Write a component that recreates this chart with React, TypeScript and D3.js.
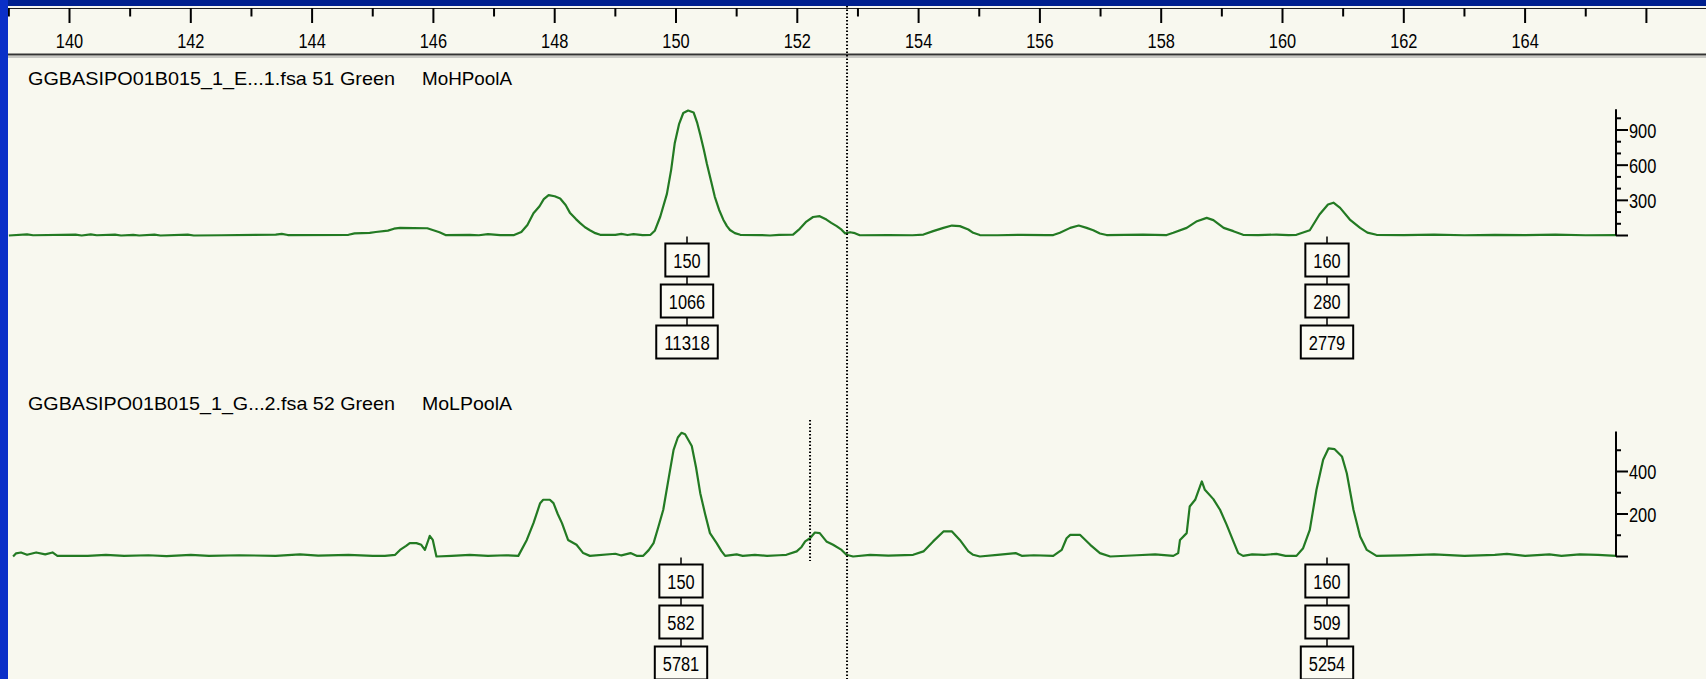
import * as d3 from "d3"
import React from "react"

const width = 1706
const height = 679

// size axis (bp)
const sizeTicks = d3.range(139, 167)
const sizeLabels = [140, 142, 144, 146, 148, 150, 152, 154, 156, 158, 160, 162, 164]

// panel headers
const topSample = "GGBASIPO01B015_1_E...1.fsa 51 Green"
const topPanel = "MoHPoolA"
const bottomSample = "GGBASIPO01B015_1_G...2.fsa 52 Green"
const bottomPanel = "MoLPoolA"

// rfu axes
const topRfuTicks = [300, 600, 900]
const topRfuMax = 1077
const bottomRfuTicks = [200, 400]
const bottomRfuMax = 588

// traces [bp, rfu]
const topTrace: [number, number][] = [
  [139.0, 0], [139.3, 10], [139.4, 2], [140.1, 8], [140.2, 0], [140.35, 10], [140.45, 2],
  [140.75, 8], [140.85, 0], [141.05, 6], [141.15, 0], [141.4, 8], [141.5, 0], [141.95, 8],
  [142.05, 0], [142.5, 2], [143.4, 8], [143.5, 14], [143.6, 4], [144.6, 6], [144.7, 18],
  [144.95, 22], [145.05, 30], [145.25, 42], [145.35, 58], [145.45, 65], [145.9, 62],
  [146.0, 45], [146.1, 28], [146.2, 4], [146.6, 6], [146.75, 2], [146.9, 12], [147.1, 4],
  [147.33, 4], [147.45, 30], [147.55, 90], [147.65, 190], [147.75, 250], [147.82, 310],
  [147.9, 345], [148.0, 335], [148.09, 315], [148.18, 260], [148.25, 195], [148.35, 140],
  [148.42, 106], [148.5, 70], [148.58, 45], [148.67, 20], [148.75, 6], [149.0, 5],
  [149.1, 14], [149.2, 4], [149.3, 12], [149.45, 4], [149.58, 6], [149.65, 40],
  [149.74, 160], [149.85, 355], [149.92, 560], [149.98, 790], [150.05, 950], [150.12, 1045],
  [150.2, 1066], [150.29, 1050], [150.35, 960], [150.4, 860], [150.46, 730], [150.51, 610],
  [150.58, 460], [150.64, 330], [150.71, 220], [150.78, 135], [150.84, 80], [150.89, 47],
  [150.97, 20], [151.06, 6], [151.4, 4], [151.55, 0], [151.7, 6], [151.93, 8], [152.04, 57],
  [152.15, 119], [152.26, 158], [152.37, 165], [152.48, 136], [152.56, 108], [152.65, 80],
  [152.73, 50], [152.79, 17], [152.87, 28], [152.95, 20], [153.03, 2], [153.5, 4],
  [153.9, 2], [154.08, 8], [154.24, 37], [154.41, 65], [154.55, 85], [154.68, 80],
  [154.82, 51], [154.9, 23], [155.01, 4], [155.3, 2], [155.7, 6], [156.1, 4], [156.22, 4],
  [156.33, 23], [156.5, 65], [156.64, 85], [156.77, 65], [156.88, 45], [156.99, 17],
  [157.1, 4], [157.7, 8], [158.09, 4], [158.2, 23], [158.42, 65], [158.59, 122],
  [158.75, 150], [158.86, 131], [159.03, 65], [159.19, 37], [159.35, 6], [159.6, 3],
  [159.9, 8], [160.1, 4], [160.23, 6], [160.45, 45], [160.61, 179], [160.75, 264],
  [160.84, 280], [160.95, 236], [161.11, 136], [161.28, 65], [161.4, 25], [161.55, 6],
  [162.0, 3], [162.5, 8], [163.0, 2], [163.5, 6], [164.0, 3], [164.5, 8], [165.0, 2],
  [165.5, 4],
]

const bottomTrace: [number, number][] = [
  [139.07, 0], [139.12, 15], [139.2, 19], [139.3, 8], [139.45, 19], [139.6, 10], [139.72, 19],
  [139.8, 3], [140.3, 3], [140.6, 8], [140.9, 3], [141.3, 6], [141.6, 2], [142.0, 8],
  [142.3, 3], [142.8, 6], [143.4, 3], [143.8, 10], [144.1, 4], [144.6, 8], [145.0, 3],
  [145.2, 3], [145.37, 8], [145.45, 31], [145.55, 50], [145.61, 63], [145.72, 63],
  [145.8, 55], [145.86, 31], [145.92, 80], [145.94, 97], [145.99, 78], [146.05, 0],
  [146.3, 3], [146.6, 8], [146.9, 3], [147.2, 6], [147.4, 3], [147.54, 78], [147.65, 157],
  [147.76, 251], [147.81, 267], [147.92, 267], [147.98, 251], [148.05, 200], [148.12, 157],
  [148.22, 78], [148.36, 55], [148.47, 16], [148.58, 3], [149.0, 13], [149.1, 5],
  [149.25, 16], [149.35, 3], [149.46, 3], [149.55, 30], [149.63, 63], [149.71, 140],
  [149.79, 220], [149.88, 370], [149.96, 502], [150.03, 560], [150.09, 582], [150.15, 575],
  [150.26, 520], [150.33, 420], [150.4, 298], [150.48, 200], [150.56, 110], [150.67, 63],
  [150.75, 25], [150.81, 3], [151.0, 10], [151.1, 3], [151.3, 8], [151.5, 3], [151.7, 6],
  [151.82, 8], [151.99, 24], [152.07, 45], [152.13, 71], [152.21, 86], [152.29, 113],
  [152.37, 110], [152.48, 71], [152.59, 55], [152.73, 31], [152.81, 8], [152.92, 0],
  [153.2, 8], [153.5, 4], [153.91, 8], [154.08, 24], [154.24, 71], [154.41, 118],
  [154.55, 118], [154.68, 78], [154.82, 24], [154.9, 8], [155.01, 0], [155.3, 8],
  [155.6, 16], [155.7, 3], [155.9, 6], [156.22, 3], [156.36, 31], [156.44, 86],
  [156.5, 102], [156.66, 102], [156.83, 55], [156.99, 16], [157.16, 0], [157.6, 6],
  [157.9, 10], [158.2, 3], [158.28, 16], [158.31, 78], [158.42, 110], [158.47, 235],
  [158.56, 267], [158.67, 353], [158.72, 314], [158.86, 270], [158.97, 220], [159.08, 149],
  [159.19, 71], [159.27, 16], [159.35, 3], [159.5, 10], [159.7, 8], [159.9, 12],
  [160.05, 3], [160.23, 3], [160.34, 39], [160.45, 125], [160.56, 314], [160.67, 455],
  [160.76, 509], [160.86, 505], [160.98, 471], [161.06, 392], [161.17, 220], [161.28, 94],
  [161.39, 31], [161.55, 3], [162.0, 5], [162.5, 10], [163.0, 3], [163.5, 8], [163.7, 12],
  [164.0, 3], [164.4, 10], [164.6, 3], [164.9, 10], [165.2, 8], [165.5, 3],
]

// peak labels
const topPeakSizes = ["150", "160"]
const topPeakHeights = [1066, 280]
const topPeakAreas = [11318, 2779]
const topPeakBp = [150.18, 160.74]
const bottomPeakSizes = ["150", "160"]
const bottomPeakHeights = [582, 509]
const bottomPeakAreas = [5781, 5254]
const bottomPeakBp = [150.08, 160.74]

// marker lines
const cursorBp = 152.82
const binMarkerBp = 152.21

const font = "'Liberation Sans', Arial, sans-serif"
const green = "#237a23"
const digitW = 9.1

const x = d3.scaleLinear().domain([150, 160]).range([676, 1282.5])
const yTop = d3.scaleLinear().domain([0, 900]).range([235.5, 130])
const yBottom = d3.scaleLinear().domain([0, 400]).range([556.5, 471.5])
const axisX = 1616

// narrow digits like the original bitmap font
const Num = ({ x, y, text, anchor = "start" }: { x: number; y: number; text: string; anchor?: string }) => (
  <text
    x={x}
    y={y}
    textAnchor={anchor}
    fontFamily={font}
    fontSize={20}
    fill="#000"
    textLength={text.length * digitW}
    lengthAdjust="spacingAndGlyphs"
  >
    {text}
  </text>
)

const Trace = ({ data, y }: { data: [number, number][]; y: d3.ScaleLinear<number, number> }) => {
  const line = d3
    .line<[number, number]>()
    .x((d) => x(d[0]))
    .y((d) => y(d[1]))
  return <path d={line(data) || ""} fill="none" stroke={green} strokeWidth={2.2} strokeLinejoin="round" />
}

const RfuAxis = ({ y, ticks, max }: { y: d3.ScaleLinear<number, number>; ticks: number[]; max: number }) => {
  const minor = d3.range(0, max, 100)
  return (
    <g>
      <line x1={axisX} x2={axisX} y1={y(max)} y2={y(0)} stroke="#000" strokeWidth={2} />
      {minor.map((v) => (
        <line
          key={v}
          x1={axisX}
          x2={axisX + (ticks.includes(v) || v === 0 ? 12 : 5)}
          y1={y(v)}
          y2={y(v)}
          stroke="#000"
          strokeWidth={2}
        />
      ))}
      {ticks.map((v) => (
        <Num key={v} x={axisX + 13} y={y(v) + 7.5} text={String(v)} />
      ))}
    </g>
  )
}

const PeakLabels = ({
  sizes,
  heights,
  areas,
  bps,
  baseline,
}: {
  sizes: string[]
  heights: number[]
  areas: number[]
  bps: number[]
  baseline: number
}) => (
  <g>
    {bps.map((bp, i) => {
      const cx = Math.round(x(bp))
      const texts = [sizes[i], String(heights[i]), String(areas[i])]
      return (
        <g key={i}>
          <line x1={cx} x2={cx} y1={baseline + 1} y2={baseline + 8 + 2 * 41} stroke="#000" strokeWidth={1.5} />
          {texts.map((t, j) => {
            const w = t.length * digitW + 16
            const top = baseline + 8 + j * 41
            return (
              <g key={j}>
                <rect x={cx - w / 2} y={top} width={w} height={33} fill="#fbfbf3" stroke="#000" strokeWidth={2} />
                <Num x={cx} y={top + 24} text={t} anchor="middle" />
              </g>
            )
          })}
        </g>
      )
    })}
  </g>
)

const Header = ({ y, sample, panel }: { y: number; sample: string; panel: string }) => (
  <g fontFamily={font} fontSize={18.5} fill="#000">
    <text x={28} y={y} textLength={367} lengthAdjust="spacingAndGlyphs">
      {sample}
    </text>
    <text x={422} y={y} textLength={90} lengthAdjust="spacingAndGlyphs">
      {panel}
    </text>
  </g>
)

export default function App() {
  return (
    <svg
      width={width}
      height={height}
      viewBox={`0 0 ${width} ${height}`}
      style={{ position: "absolute", left: 0, top: 0, display: "block" }}
    >
      <rect x={0} y={0} width={width} height={height} fill="#f8f8ef" />

      {/* size axis */}
      <line x1={8} x2={width} y1={8.5} y2={8.5} stroke="#222" strokeWidth={1} />
      {sizeTicks.map((t) => (
        <line key={t} x1={x(t)} x2={x(t)} y1={8} y2={t % 2 === 0 ? 23 : 16.5} stroke="#000" strokeWidth={2} />
      ))}
      {sizeLabels.map((t) => (
        <Num key={t} x={x(t)} y={48} text={String(t)} anchor="middle" />
      ))}
      <line x1={8} x2={width} y1={54.5} y2={54.5} stroke="#333" strokeWidth={2} />
      <line x1={8} x2={width} y1={57} y2={57} stroke="#999" strokeWidth={1} />

      {/* top panel */}
      <Header y={85} sample={topSample} panel={topPanel} />
      <Trace data={topTrace} y={yTop} />
      <RfuAxis y={yTop} ticks={topRfuTicks} max={topRfuMax} />
      <PeakLabels sizes={topPeakSizes} heights={topPeakHeights} areas={topPeakAreas} bps={topPeakBp} baseline={yTop(0)} />

      {/* bottom panel */}
      <Header y={410} sample={bottomSample} panel={bottomPanel} />
      <Trace data={bottomTrace} y={yBottom} />
      <RfuAxis y={yBottom} ticks={bottomRfuTicks} max={bottomRfuMax} />
      <PeakLabels
        sizes={bottomPeakSizes}
        heights={bottomPeakHeights}
        areas={bottomPeakAreas}
        bps={bottomPeakBp}
        baseline={yBottom(0)}
      />

      {/* markers */}
      <line x1={x(cursorBp)} x2={x(cursorBp)} y1={6} y2={height} stroke="#000" strokeWidth={2} strokeDasharray="1.5,2" />
      <line
        x1={x(binMarkerBp)}
        x2={x(binMarkerBp)}
        y1={420}
        y2={561}
        stroke="#000"
        strokeWidth={2}
        strokeDasharray="1.5,2"
      />

      {/* window frame */}
      <rect x={0} y={0} width={width} height={6} fill="#00208f" />
      <rect x={0} y={0} width={8} height={height} fill="#0a2fc8" />
    </svg>
  )
}
